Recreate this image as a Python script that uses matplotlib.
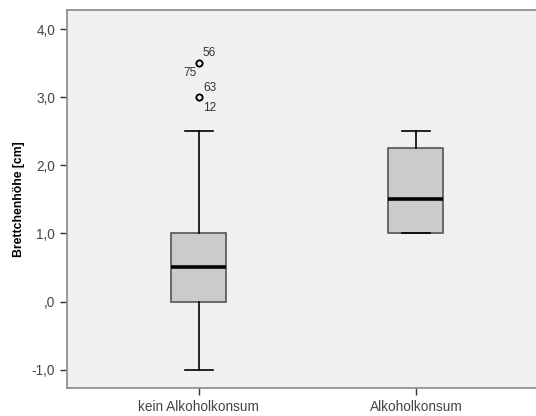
import matplotlib
matplotlib.use("Agg")
import matplotlib.pyplot as plt

# Box plot summary per group
groups = ["kein Alkoholkonsum", "Alkoholkonsum"]
whisker_low = [-1.0, 1.0]
q1 = [0.0, 1.0]
medians = [0.5, 1.5]
q3 = [1.0, 2.25]
whisker_high = [2.5, 2.5]

# Outliers (group index, value, case number)
outlier_group = [0, 0, 0, 0]
outlier_vals = [3.5, 3.5, 3.0, 3.0]
outlier_ids = ["56", "75", "63", "12"]

y_ticks = [-1.0, 0.0, 1.0, 2.0, 3.0, 4.0]
y_ticklabels = ["-1,0", ",0", "1,0", "2,0", "3,0", "4,0"]

plt.rcParams["font.family"] = ["Liberation Sans", "DejaVu Sans"]

fig = plt.figure(figsize=(5.36, 4.16), dpi=100)
# plot area runs off the right edge, so no right border is drawn
ax = fig.add_axes([0.125, 0.0673, 0.885, 0.9087])
ax.set_facecolor("#F0F0F0")

stats = []
for i, name in enumerate(groups):
    fl = [v for g, v in zip(outlier_group, outlier_vals) if g == i]
    stats.append(dict(label=name, whislo=whisker_low[i], q1=q1[i], med=medians[i],
                      q3=q3[i], whishi=whisker_high[i], fliers=fl))

ax.bxp(stats, positions=[1, 2], widths=0.253, patch_artist=True,
       boxprops=dict(facecolor="#CBCBCB", edgecolor="#555555", linewidth=1.2),
       medianprops=dict(color="black", linewidth=2.6),
       whiskerprops=dict(color="black", linewidth=1.2),
       capprops=dict(color="black", linewidth=1.2),
       flierprops=dict(marker="o", markersize=4.5, markerfacecolor="none",
                       markeredgecolor="black", markeredgewidth=1.1))

# Case numbers next to the outliers
label_offsets = [(4, 10, "left"), (-2, -10, "right"), (4, 9, "left"), (4, -11, "left")]
for g, v, lab, (dx, dy, ha) in zip(outlier_group, outlier_vals, outlier_ids, label_offsets):
    ax.annotate(lab, (g + 1, v), xytext=(dx, dy), textcoords="offset pixels",
                ha=ha, va="center", fontsize=8.5, color="#333333")

ax.set_xlim(0.392, 0.392 + 0.885 * 536 / 217)
ax.set_ylim(-1.27, 4.28)
ax.set_yticks(y_ticks)
ax.set_yticklabels(y_ticklabels)
ax.set_xticks([1, 2])
ax.set_xticklabels(groups)

ax.tick_params(axis="both", direction="out", length=5, width=1, color="#333333",
               labelcolor="#444444", labelsize=9.8)
for side in ["left", "bottom", "top"]:
    ax.spines[side].set_color("#888888")
    ax.spines[side].set_linewidth(1.2)
ax.spines["right"].set_visible(False)

ax.set_ylabel("Brettchenhöhe [cm]", fontsize=8.8, fontweight="bold", labelpad=5)

fig.savefig("out.png", dpi=100, facecolor="white")
